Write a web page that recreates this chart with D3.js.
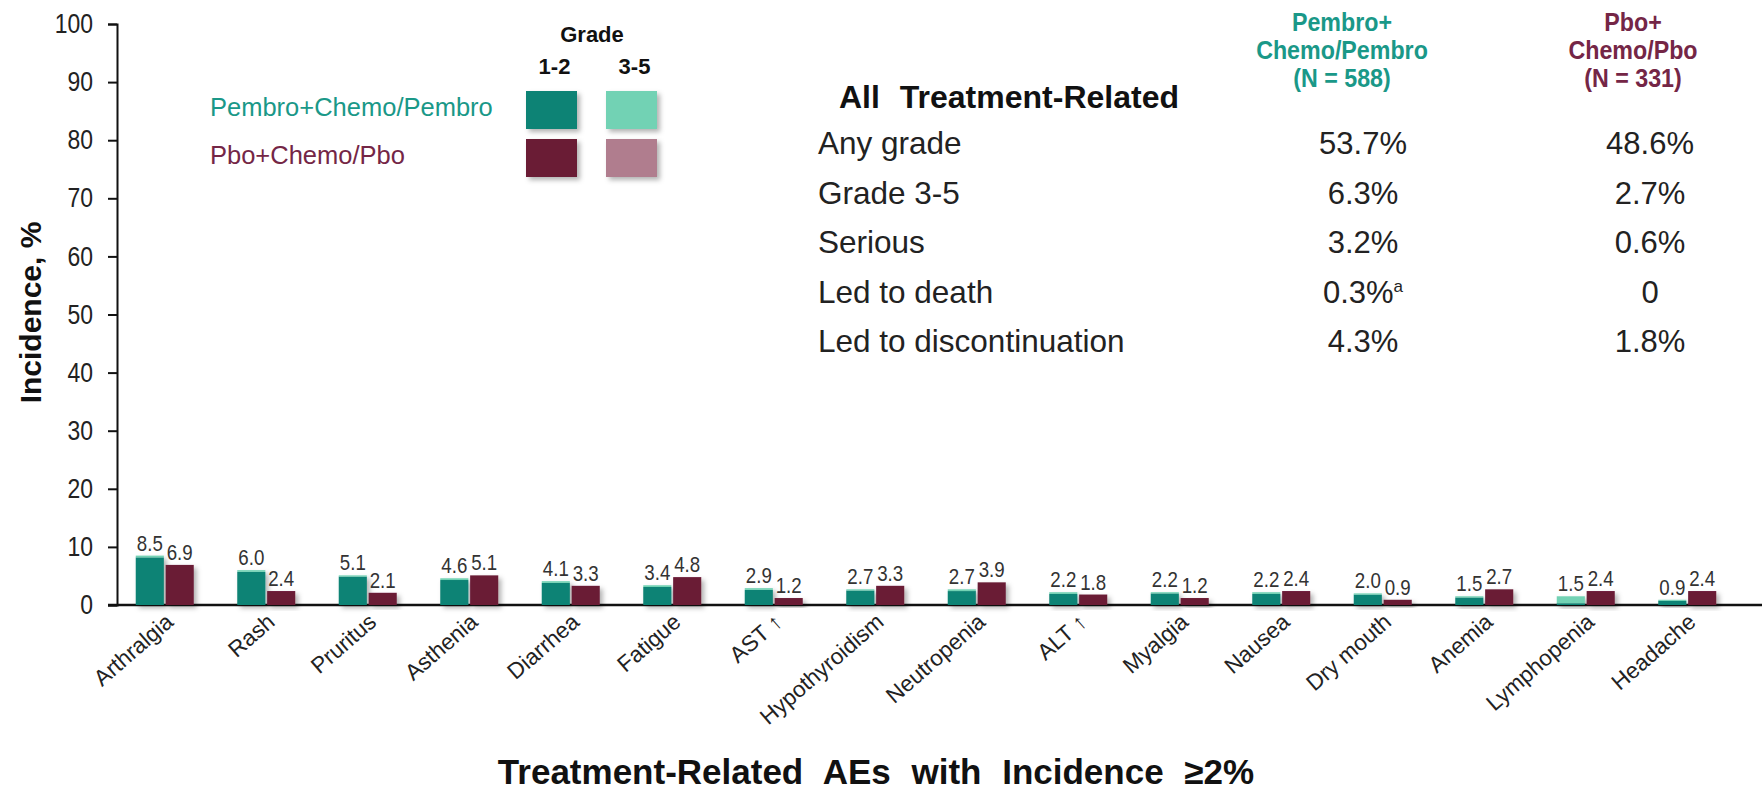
<!DOCTYPE html>
<html>
<head>
<meta charset="utf-8">
<script src="https://cdn.jsdelivr.net/npm/d3@7"></script>
<style>
  html, body { margin: 0; padding: 0; background: #ffffff; }
  svg { display: block; }
  .sans { font-family: "Liberation Sans", Arial, sans-serif; }
</style>
</head>
<body>
<svg id="chart" width="1762" height="793"></svg>
<script>
// Treatment-related adverse events, incidence (%) by arm
const categories = ["Arthralgia", "Rash", "Pruritus", "Asthenia", "Diarrhea", "Fatigue", "AST \u2191",
  "Hypothyroidism", "Neutropenia", "ALT \u2191", "Myalgia", "Nausea", "Dry mouth", "Anemia",
  "Lymphopenia", "Headache"];
const pembroTotal = [8.5, 6.0, 5.1, 4.6, 4.1, 3.4, 2.9, 2.7, 2.7, 2.2, 2.2, 2.2, 2.0, 1.5, 1.5, 0.9];
const pboTotal    = [6.9, 2.4, 2.1, 5.1, 3.3, 4.8, 1.2, 3.3, 3.9, 1.8, 1.2, 2.4, 0.9, 2.7, 2.4, 2.4];
// grade 3-5 share of each total (remainder is grade 1-2)
const pembroGrade35 = [0.3, 0.3, 0.2, 0.3, 0.3, 0.3, 0.3, 0.2, 0.3, 0.3, 0.2, 0.3, 0.2, 0.2, 1.2, 0.2];
const pboGrade35    = [0, 0, 0, 0, 0, 0, 0, 0, 0, 0, 0, 0, 0, 0, 0, 0];
const yTickValues = [0, 10, 20, 30, 40, 50, 60, 70, 80, 90, 100];

// Summary table
const arms = ["Pembro+Chemo/Pembro", "Pbo+Chemo/Pbo"];
const armHeaders = [["Pembro+", "Chemo/Pembro", "(N = 588)"], ["Pbo+", "Chemo/Pbo", "(N = 331)"]];
const tableRows = ["Any grade", "Grade 3-5", "Serious", "Led to death", "Led to discontinuation"];
const pembroRates = ["53.7%", "6.3%", "3.2%", "0.3%", "4.3%"];
const pboRates    = ["48.6%", "2.7%", "0.6%", "0", "1.8%"];
const rateNotes   = [["", "", "", "a", ""], ["", "", "", "", ""]];
const gradeLabels = ["1-2", "3-5"];

const colors = {
  pembro12: "#0f8374", pembro35: "#72d2b4",
  pbo12: "#6a1a35", pbo35: "#b07d8e",
  pembroText: "#1a9888", pboText: "#742646"
};

// horizontally condense a text element around its own x position
function condense(sel, f) {
  sel.each(function () {
    const t = d3.select(this);
    const x0 = +t.attr("x") || 0;
    const prev = t.attr("transform") || "";
    t.attr("x", x0 / f).attr("transform", `${prev} scale(${f},1)`);
  });
  return sel;
}

const svg = d3.select("#chart");
const defs = svg.append("defs");
const shadow = defs.append("filter").attr("id", "shadow")
  .attr("x", "-30%").attr("y", "-30%").attr("width", "170%").attr("height", "170%");
shadow.append("feDropShadow").attr("dx", 3).attr("dy", 3).attr("stdDeviation", 2.5)
  .attr("flood-color", "#000").attr("flood-opacity", 0.3);
const ruleShadow = defs.append("filter").attr("id", "ruleShadow")
  .attr("x", "-5%").attr("y", "-200%").attr("width", "110%").attr("height", "500%");
ruleShadow.append("feDropShadow").attr("dx", 0).attr("dy", 3).attr("stdDeviation", 1.5)
  .attr("flood-color", "#000").attr("flood-opacity", 0.35);

const axisX = 117, yTop = 24, yBase = 605;

const y = d3.scaleLinear().domain([0, 100]).range([yBase, yTop]);
const x = d3.scaleBand().domain(categories).range([114, 1738]).padding(0);
const xInner = d3.scaleBand().domain(arms)
  .range([x.bandwidth() / 2 - 29, x.bandwidth() / 2 + 29]).paddingInner(0.06);

// y axis
const yAxis = svg.append("g").attr("transform", `translate(${axisX},0)`)
  .call(d3.axisLeft(y).tickValues(yTickValues).tickSize(9).tickPadding(15));
yAxis.select(".domain").attr("stroke", "#111").attr("stroke-width", 2);
yAxis.selectAll(".tick line").attr("stroke", "#111").attr("stroke-width", 2);
condense(yAxis.selectAll(".tick text").attr("class", "sans").attr("font-size", 27).attr("fill", "#222"), 0.85);

// x axis baseline across the full width
svg.append("line").attr("x1", axisX - 9).attr("x2", 1762).attr("y1", y(0)).attr("y2", y(0))
  .attr("stroke", "#111").attr("stroke-width", 2.5);

// y axis title
svg.append("text").attr("class", "sans")
  .attr("transform", `translate(41,${(yTop + yBase) / 2 - 2}) rotate(-90)`)
  .attr("text-anchor", "middle").attr("font-size", 30).attr("font-weight", "bold").attr("fill", "#111")
  .text("Incidence, %");

// bars
const series = [
  { arm: arms[0], total: pembroTotal, g35: pembroGrade35, c12: colors.pembro12, c35: colors.pembro35 },
  { arm: arms[1], total: pboTotal, g35: pboGrade35, c12: colors.pbo12, c35: colors.pbo35 }
];
const barLayer = svg.append("g");
const valueLayer = svg.append("g");
series.forEach(s => {
  categories.forEach((c, i) => {
    const bx = x(c) + xInner(s.arm);
    const low = s.total[i] - s.g35[i];
    const cell = barLayer.append("g").attr("filter", "url(#shadow)");
    cell.append("rect").attr("x", bx).attr("width", xInner.bandwidth())
      .attr("y", y(low)).attr("height", y(0) - y(low)).attr("fill", s.c12);
    if (s.g35[i] > 0) {
      cell.append("rect").attr("x", bx).attr("width", xInner.bandwidth())
        .attr("y", y(s.total[i])).attr("height", y(low) - y(s.total[i])).attr("fill", s.c35);
    }
    condense(valueLayer.append("text").attr("class", "sans")
      .attr("x", bx + xInner.bandwidth() / 2).attr("y", y(s.total[i]) - 5)
      .attr("text-anchor", "middle").attr("font-size", 22).attr("fill", "#333")
      .text(s.total[i].toFixed(1)), 0.85);
  });
});

// category labels, rotated
svg.append("g").selectAll("text").data(categories).join("text")
  .attr("class", "sans")
  .attr("transform", d => `translate(${x(d) + x.bandwidth() / 2 + 10},${y(0) + 19}) rotate(-41)`)
  .attr("text-anchor", "end").attr("font-size", 22.5).attr("fill", "#222")
  .text(d => d);

// x axis title
svg.append("text").attr("class", "sans").attr("x", 876).attr("y", 784)
  .attr("text-anchor", "middle").attr("font-size", 35).attr("font-weight", "bold").attr("fill", "#111")
  .attr("word-spacing", 11)
  .text("Treatment-Related AEs with Incidence \u22652%");

// legend
const legend = svg.append("g");
legend.append("text").attr("class", "sans").attr("x", 592).attr("y", 42).attr("text-anchor", "middle")
  .attr("font-size", 22).attr("font-weight", "bold").attr("fill", "#111").text("Grade");
const swX = [526, 606], swY = [91, 139], swW = 51, swH = 38;
gradeLabels.forEach((g, j) => {
  legend.append("text").attr("class", "sans").attr("x", swX[j] + swW / 2 + 3).attr("y", 74)
    .attr("text-anchor", "middle").attr("font-size", 22).attr("font-weight", "bold").attr("fill", "#111").text(g);
});
[[colors.pembro12, colors.pembro35], [colors.pbo12, colors.pbo35]].forEach((row, i) => {
  row.forEach((col, j) => {
    legend.append("rect").attr("x", swX[j]).attr("y", swY[i]).attr("width", swW).attr("height", swH)
      .attr("fill", col).attr("filter", "url(#shadow)");
  });
  legend.append("text").attr("class", "sans").attr("x", 210).attr("y", swY[i] + 25)
    .attr("font-size", 25.5).attr("fill", i === 0 ? colors.pembroText : colors.pboText)
    .text(arms[i]);
});

// summary table
const table = svg.append("g");
table.append("text").attr("class", "sans").attr("x", 839).attr("y", 108)
  .attr("font-size", 32).attr("font-weight", "bold").attr("fill", "#111")
  .attr("word-spacing", 11).text("All Treatment-Related");
const colX = [1342, 1633];
armHeaders.forEach((lines, j) => {
  lines.forEach((t, k) => {
    condense(table.append("text").attr("class", "sans").attr("x", colX[j]).attr("y", 31 + k * 28)
      .attr("text-anchor", "middle").attr("font-size", 25).attr("font-weight", "bold")
      .attr("fill", j === 0 ? colors.pembroText : colors.pboText).text(t), 0.93);
  });
});
table.append("line").attr("x1", 800).attr("x2", 1762).attr("y1", 116).attr("y2", 116)
  .attr("stroke", "#3d4244").attr("stroke-width", 4.5).attr("filter", "url(#ruleShadow)");
const valX = [1363, 1650];
tableRows.forEach((r, i) => {
  const by = 154 + i * 49.5;
  table.append("text").attr("class", "sans").attr("x", 818).attr("y", by)
    .attr("font-size", 31.5).attr("fill", "#222").text(r);
  [pembroRates, pboRates].forEach((vals, j) => {
    const t = table.append("text").attr("class", "sans").attr("x", valX[j]).attr("y", by)
      .attr("text-anchor", "middle").attr("font-size", 31).attr("fill", "#222");
    t.append("tspan").text(vals[i]);
    if (rateNotes[j][i]) {
      t.append("tspan").attr("font-size", 17).attr("dy", -11).text(rateNotes[j][i]);
    }
  });
});
</script>
</body>
</html>
